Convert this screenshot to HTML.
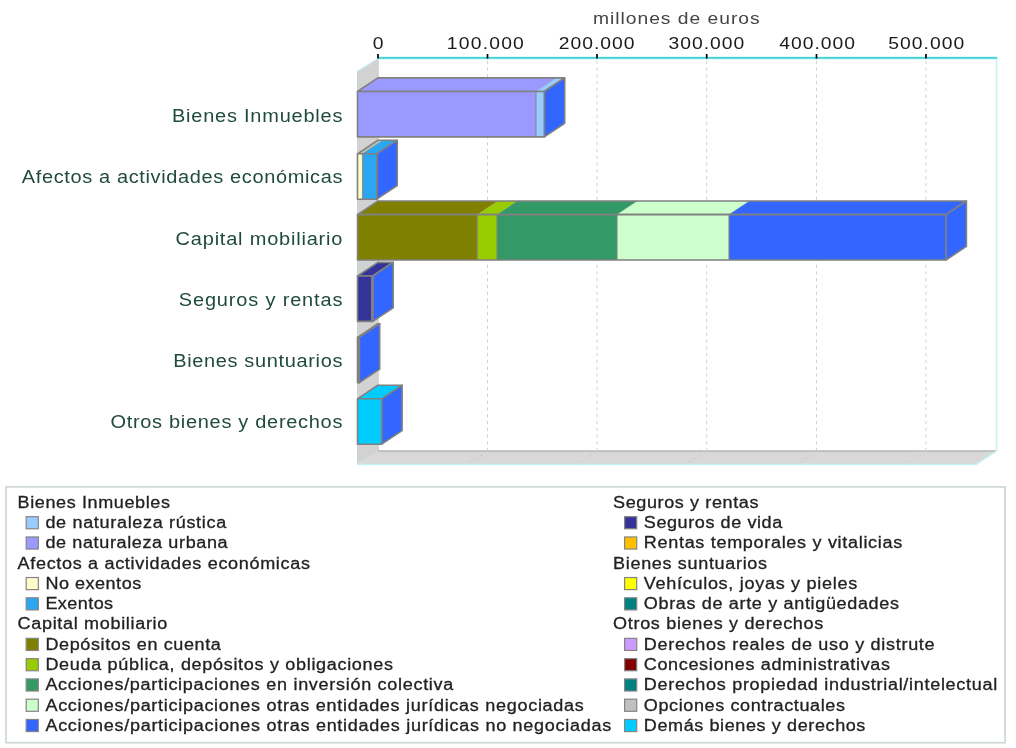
<!DOCTYPE html>
<html><head><meta charset="utf-8"><title>chart</title>
<style>
html,body{margin:0;padding:0;background:#fff;}
body{width:1016px;height:748px;overflow:hidden;}
svg{display:block;will-change:transform;}
text{font-family:"Liberation Sans",sans-serif;white-space:pre;}
</style></head><body>
<svg width="1016" height="748" viewBox="0 0 1016 748">
<rect width="1016" height="748" fill="#fff"/>
<polygon points="357.0,71.6 378.9,58 378.9,451 357.0,464.6" fill="#d2d2d2"/>
<line x1="357.0" y1="71.6" x2="378.9" y2="58" stroke="#c4f0f0" stroke-width="1.2"/>
<polygon points="378,451 996.5,451 976.1,464.6 357.5,464.6" fill="#d8d8d8"/>
<line x1="378" y1="451" x2="996.5" y2="451" stroke="#b4b4b4" stroke-width="1.5"/>
<polyline points="996.5,58 996.5,451 976.1,464.6 357.5,464.6" fill="none" stroke="#c4f4f4" stroke-width="1.5"/>
<line x1="357.5" y1="71.6" x2="357.5" y2="464.6" stroke="#c4d8d8" stroke-width="1"/>
<line x1="487.5" y1="60.5" x2="487.5" y2="451" stroke="#d2d2d2" stroke-width="1" stroke-dasharray="3.4,3.4"/>
<line x1="487.5" y1="451" x2="467.1" y2="464.6" stroke="#cccccc" stroke-width="1" stroke-dasharray="3,3"/>
<line x1="597" y1="60.5" x2="597" y2="451" stroke="#d2d2d2" stroke-width="1" stroke-dasharray="3.4,3.4"/>
<line x1="597" y1="451" x2="576.6" y2="464.6" stroke="#cccccc" stroke-width="1" stroke-dasharray="3,3"/>
<line x1="706.7" y1="60.5" x2="706.7" y2="451" stroke="#d2d2d2" stroke-width="1" stroke-dasharray="3.4,3.4"/>
<line x1="706.7" y1="451" x2="686.3000000000001" y2="464.6" stroke="#cccccc" stroke-width="1" stroke-dasharray="3,3"/>
<line x1="816.5" y1="60.5" x2="816.5" y2="451" stroke="#d2d2d2" stroke-width="1" stroke-dasharray="3.4,3.4"/>
<line x1="816.5" y1="451" x2="796.1" y2="464.6" stroke="#cccccc" stroke-width="1" stroke-dasharray="3,3"/>
<line x1="926" y1="60.5" x2="926" y2="451" stroke="#d2d2d2" stroke-width="1" stroke-dasharray="3.4,3.4"/>
<line x1="926" y1="451" x2="905.6" y2="464.6" stroke="#cccccc" stroke-width="1" stroke-dasharray="3,3"/>
<line x1="378" y1="58" x2="997.3" y2="58" stroke="#d4fafa" stroke-width="3.6"/>
<line x1="378" y1="57.9" x2="997.1" y2="57.9" stroke="#46cfd6" stroke-width="1.8"/>
<line x1="378" y1="54" x2="378" y2="58.6" stroke="#000" stroke-width="1.7"/>
<line x1="487.5" y1="54" x2="487.5" y2="58.6" stroke="#000" stroke-width="1.7"/>
<line x1="597" y1="54" x2="597" y2="58.6" stroke="#000" stroke-width="1.7"/>
<line x1="706.7" y1="54" x2="706.7" y2="58.6" stroke="#000" stroke-width="1.7"/>
<line x1="816.5" y1="54" x2="816.5" y2="58.6" stroke="#000" stroke-width="1.7"/>
<line x1="926" y1="54" x2="926" y2="58.6" stroke="#000" stroke-width="1.7"/>
<polygon points="357.5,91.5 377.9,77.9 556.3,77.9 535.9,91.5" fill="#9999FF"/>
<polygon points="535.9,91.5 556.3,77.9 564.6999999999999,77.9 544.3,91.5" fill="#99CCFF"/>
<line x1="535.9" y1="91.5" x2="556.3" y2="77.9" stroke="#808080" stroke-width="1" stroke-opacity="0.3"/>
<polygon points="357.5,91.5 377.9,77.9 564.6999999999999,77.9 544.3,91.5" fill="none" stroke="#808080" stroke-width="1.6" stroke-linejoin="round"/>
<polygon points="544.3,91.5 564.6999999999999,77.9 564.6999999999999,123.30000000000001 544.3,136.9" fill="#3366FF" stroke="#808080" stroke-width="1.6" stroke-linejoin="round"/>
<rect x="357.5" y="91.5" width="178.39999999999998" height="45.4" fill="#9999FF"/>
<rect x="535.9" y="91.5" width="8.399999999999977" height="45.4" fill="#99CCFF"/>
<line x1="535.9" y1="91.5" x2="535.9" y2="136.9" stroke="#808080" stroke-width="1.4" stroke-opacity="0.75"/>
<rect x="357.5" y="91.5" width="186.79999999999995" height="45.4" fill="none" stroke="#808080" stroke-width="1.6" stroke-linejoin="round"/>
<polygon points="357.5,153.8 377.9,140.20000000000002 383.0,140.20000000000002 362.6,153.8" fill="#b9bdb0"/>
<polygon points="362.6,153.8 383.0,140.20000000000002 397.2,140.20000000000002 376.8,153.8" fill="#2BA6F0"/>
<line x1="362.6" y1="153.8" x2="383.0" y2="140.20000000000002" stroke="#808080" stroke-width="1" stroke-opacity="0.3"/>
<polygon points="357.5,153.8 377.9,140.20000000000002 397.2,140.20000000000002 376.8,153.8" fill="none" stroke="#808080" stroke-width="1.6" stroke-linejoin="round"/>
<polygon points="376.8,153.8 397.2,140.20000000000002 397.2,185.60000000000002 376.8,199.20000000000002" fill="#3366FF" stroke="#808080" stroke-width="1.6" stroke-linejoin="round"/>
<rect x="357.5" y="153.8" width="5.100000000000023" height="45.4" fill="#FFFFCC"/>
<rect x="362.6" y="153.8" width="14.199999999999989" height="45.4" fill="#2BA6F0"/>
<line x1="362.6" y1="153.8" x2="362.6" y2="199.20000000000002" stroke="#808080" stroke-width="1.4" stroke-opacity="0.75"/>
<rect x="357.5" y="153.8" width="19.30000000000001" height="45.4" fill="none" stroke="#808080" stroke-width="1.6" stroke-linejoin="round"/>
<polygon points="357.5,214.6 377.9,201.0 497.9,201.0 477.5,214.6" fill="#808000"/>
<polygon points="477.5,214.6 497.9,201.0 517.4,201.0 497,214.6" fill="#99CC00"/>
<polygon points="497,214.6 517.4,201.0 637.4,201.0 617,214.6" fill="#339966"/>
<polygon points="617,214.6 637.4,201.0 749.4,201.0 729,214.6" fill="#CCFFCC"/>
<polygon points="729,214.6 749.4,201.0 966.4,201.0 946,214.6" fill="#3366FF"/>
<line x1="477.5" y1="214.6" x2="497.9" y2="201.0" stroke="#808080" stroke-width="1" stroke-opacity="0.3"/>
<line x1="497" y1="214.6" x2="517.4" y2="201.0" stroke="#808080" stroke-width="1" stroke-opacity="0.3"/>
<line x1="617" y1="214.6" x2="637.4" y2="201.0" stroke="#808080" stroke-width="1" stroke-opacity="0.3"/>
<line x1="729" y1="214.6" x2="749.4" y2="201.0" stroke="#808080" stroke-width="1" stroke-opacity="0.3"/>
<polygon points="357.5,214.6 377.9,201.0 966.4,201.0 946,214.6" fill="none" stroke="#808080" stroke-width="1.6" stroke-linejoin="round"/>
<polygon points="946,214.6 966.4,201.0 966.4,246.4 946,260.0" fill="#3366FF" stroke="#808080" stroke-width="1.6" stroke-linejoin="round"/>
<rect x="357.5" y="214.6" width="120.0" height="45.4" fill="#808000"/>
<rect x="477.5" y="214.6" width="19.5" height="45.4" fill="#99CC00"/>
<rect x="497" y="214.6" width="120" height="45.4" fill="#339966"/>
<rect x="617" y="214.6" width="112" height="45.4" fill="#CCFFCC"/>
<rect x="729" y="214.6" width="217" height="45.4" fill="#3366FF"/>
<line x1="477.5" y1="214.6" x2="477.5" y2="260.0" stroke="#808080" stroke-width="1.4" stroke-opacity="0.75"/>
<line x1="497" y1="214.6" x2="497" y2="260.0" stroke="#808080" stroke-width="1.4" stroke-opacity="0.75"/>
<line x1="617" y1="214.6" x2="617" y2="260.0" stroke="#808080" stroke-width="1.4" stroke-opacity="0.75"/>
<line x1="729" y1="214.6" x2="729" y2="260.0" stroke="#808080" stroke-width="1.4" stroke-opacity="0.75"/>
<rect x="357.5" y="214.6" width="588.5" height="45.4" fill="none" stroke="#808080" stroke-width="1.6" stroke-linejoin="round"/>
<polygon points="357.5,276.0 377.9,262.4 392.0,262.4 371.6,276.0" fill="#333399"/>
<polygon points="371.6,276.0 392.0,262.4 393.2,262.4 372.8,276.0" fill="#808080"/>
<line x1="371.6" y1="276.0" x2="392.0" y2="262.4" stroke="#808080" stroke-width="1" stroke-opacity="0.3"/>
<polygon points="357.5,276.0 377.9,262.4 393.2,262.4 372.8,276.0" fill="none" stroke="#808080" stroke-width="1.6" stroke-linejoin="round"/>
<polygon points="372.8,276.0 393.2,262.4 393.2,307.79999999999995 372.8,321.4" fill="#3366FF" stroke="#808080" stroke-width="1.6" stroke-linejoin="round"/>
<rect x="357.5" y="276.0" width="14.100000000000023" height="45.4" fill="#333399"/>
<rect x="371.6" y="276.0" width="1.1999999999999886" height="45.4" fill="#808080"/>
<line x1="371.6" y1="276.0" x2="371.6" y2="321.4" stroke="#808080" stroke-width="1.4" stroke-opacity="0.75"/>
<rect x="357.5" y="276.0" width="15.300000000000011" height="45.4" fill="none" stroke="#808080" stroke-width="1.6" stroke-linejoin="round"/>
<polygon points="357.5,337.3 377.9,323.7 379.7,323.7 359.3,337.3" fill="#808080"/>
<polygon points="357.5,337.3 377.9,323.7 379.7,323.7 359.3,337.3" fill="none" stroke="#808080" stroke-width="1.6" stroke-linejoin="round"/>
<polygon points="359.3,337.3 379.7,323.7 379.7,369.09999999999997 359.3,382.7" fill="#3366FF" stroke="#808080" stroke-width="1.6" stroke-linejoin="round"/>
<rect x="357.5" y="337.3" width="1.8000000000000114" height="45.4" fill="#808080"/>
<rect x="357.5" y="337.3" width="1.8000000000000114" height="45.4" fill="none" stroke="#808080" stroke-width="1.6" stroke-linejoin="round"/>
<polygon points="357.5,398.8 377.9,385.2 402.09999999999997,385.2 381.7,398.8" fill="#00CCFF"/>
<polygon points="357.5,398.8 377.9,385.2 402.09999999999997,385.2 381.7,398.8" fill="none" stroke="#808080" stroke-width="1.6" stroke-linejoin="round"/>
<polygon points="381.7,398.8 402.09999999999997,385.2 402.09999999999997,430.59999999999997 381.7,444.2" fill="#3366FF" stroke="#808080" stroke-width="1.6" stroke-linejoin="round"/>
<rect x="357.5" y="398.8" width="24.19999999999999" height="45.4" fill="#00CCFF"/>
<rect x="357.5" y="398.8" width="24.19999999999999" height="45.4" fill="none" stroke="#808080" stroke-width="1.6" stroke-linejoin="round"/>
<text transform="translate(593.00,23.70) scale(1.12,1)" textLength="148.75" lengthAdjust="spacing" font-size="17.2" fill="#444" >millones de euros</text>
<text transform="translate(372.65,48.80) scale(1.15,1)" textLength="8.87" lengthAdjust="spacing" font-size="16.8" fill="#1a1a1a" >0</text>
<text transform="translate(446.85,48.80) scale(1.15,1)" textLength="66.96" lengthAdjust="spacing" font-size="16.8" fill="#1a1a1a" >100.000</text>
<text transform="translate(558.70,48.80) scale(1.15,1)" textLength="65.91" lengthAdjust="spacing" font-size="16.8" fill="#1a1a1a" >200.000</text>
<text transform="translate(668.50,48.80) scale(1.15,1)" textLength="65.91" lengthAdjust="spacing" font-size="16.8" fill="#1a1a1a" >300.000</text>
<text transform="translate(779.20,48.80) scale(1.15,1)" textLength="65.91" lengthAdjust="spacing" font-size="16.8" fill="#1a1a1a" >400.000</text>
<text transform="translate(888.35,48.80) scale(1.15,1)" textLength="65.91" lengthAdjust="spacing" font-size="16.8" fill="#1a1a1a" >500.000</text>
<text transform="translate(172.00,122.40) scale(1.08,1)" textLength="157.78" lengthAdjust="spacing" font-size="18.5" fill="#1f4a3c" >Bienes Inmuebles</text>
<text transform="translate(21.80,183.00) scale(1.08,1)" textLength="296.85" lengthAdjust="spacing" font-size="18.5" fill="#1f4a3c" >Afectos a actividades económicas</text>
<text transform="translate(175.60,244.90) scale(1.08,1)" textLength="154.44" lengthAdjust="spacing" font-size="18.5" fill="#1f4a3c" >Capital mobiliario</text>
<text transform="translate(178.80,305.70) scale(1.08,1)" textLength="151.48" lengthAdjust="spacing" font-size="18.5" fill="#1f4a3c" >Seguros y rentas</text>
<text transform="translate(173.20,367.30) scale(1.08,1)" textLength="156.67" lengthAdjust="spacing" font-size="18.5" fill="#1f4a3c" >Bienes suntuarios</text>
<text transform="translate(110.40,428.10) scale(1.08,1)" textLength="214.81" lengthAdjust="spacing" font-size="18.5" fill="#1f4a3c" >Otros bienes y derechos</text>
<rect x="6" y="486.9" width="999" height="255.8" fill="#fff" stroke="#ccd4d4" stroke-width="1.6"/>
<text transform="translate(17.60,507.70) scale(1.1,1)" textLength="138.55" lengthAdjust="spacing" font-size="16.4" fill="#222" stroke="#222" stroke-width="0.3">Bienes Inmuebles</text>
<rect x="26.20" y="516.68" width="12.1" height="12.1" fill="#99CCFF" stroke="#848484" stroke-width="1.2"/>
<text transform="translate(45.40,527.98) scale(1.1,1)" textLength="164.36" lengthAdjust="spacing" font-size="16.4" fill="#222" stroke="#222" stroke-width="0.3">de naturaleza rústica</text>
<rect x="26.20" y="536.96" width="12.1" height="12.1" fill="#9999FF" stroke="#848484" stroke-width="1.2"/>
<text transform="translate(45.40,548.26) scale(1.1,1)" textLength="165.64" lengthAdjust="spacing" font-size="16.4" fill="#222" stroke="#222" stroke-width="0.3">de naturaleza urbana</text>
<text transform="translate(17.60,568.54) scale(1.1,1)" textLength="265.73" lengthAdjust="spacing" font-size="16.4" fill="#222" stroke="#222" stroke-width="0.3">Afectos a actividades económicas</text>
<rect x="26.20" y="577.52" width="12.1" height="12.1" fill="#FFFFCC" stroke="#848484" stroke-width="1.2"/>
<text transform="translate(45.40,588.82) scale(1.1,1)" textLength="87.09" lengthAdjust="spacing" font-size="16.4" fill="#222" stroke="#222" stroke-width="0.3">No exentos</text>
<rect x="26.20" y="597.80" width="12.1" height="12.1" fill="#2BA6F0" stroke="#848484" stroke-width="1.2"/>
<text transform="translate(45.40,609.10) scale(1.1,1)" textLength="61.55" lengthAdjust="spacing" font-size="16.4" fill="#222" stroke="#222" stroke-width="0.3">Exentos</text>
<text transform="translate(17.60,629.38) scale(1.1,1)" textLength="136.09" lengthAdjust="spacing" font-size="16.4" fill="#222" stroke="#222" stroke-width="0.3">Capital mobiliario</text>
<rect x="26.20" y="638.36" width="12.1" height="12.1" fill="#808000" stroke="#848484" stroke-width="1.2"/>
<text transform="translate(45.40,649.66) scale(1.1,1)" textLength="159.55" lengthAdjust="spacing" font-size="16.4" fill="#222" stroke="#222" stroke-width="0.3">Depósitos en cuenta</text>
<rect x="26.20" y="658.64" width="12.1" height="12.1" fill="#99CC00" stroke="#848484" stroke-width="1.2"/>
<text transform="translate(45.40,669.94) scale(1.1,1)" textLength="316.00" lengthAdjust="spacing" font-size="16.4" fill="#222" stroke="#222" stroke-width="0.3">Deuda pública, depósitos y obligaciones</text>
<rect x="26.20" y="678.92" width="12.1" height="12.1" fill="#339966" stroke="#848484" stroke-width="1.2"/>
<text transform="translate(45.40,690.22) scale(1.1,1)" textLength="370.82" lengthAdjust="spacing" font-size="16.4" fill="#222" stroke="#222" stroke-width="0.3">Acciones/participaciones en inversión colectiva</text>
<rect x="26.20" y="699.20" width="12.1" height="12.1" fill="#CCFFCC" stroke="#848484" stroke-width="1.2"/>
<text transform="translate(45.40,710.50) scale(1.1,1)" textLength="489.45" lengthAdjust="spacing" font-size="16.4" fill="#222" stroke="#222" stroke-width="0.3">Acciones/participaciones otras entidades jurídicas negociadas</text>
<rect x="26.20" y="719.48" width="12.1" height="12.1" fill="#3366FF" stroke="#848484" stroke-width="1.2"/>
<text transform="translate(45.40,730.78) scale(1.1,1)" textLength="514.36" lengthAdjust="spacing" font-size="16.4" fill="#222" stroke="#222" stroke-width="0.3">Acciones/participaciones otras entidades jurídicas no negociadas</text>
<text transform="translate(613.10,507.70) scale(1.1,1)" textLength="132.18" lengthAdjust="spacing" font-size="16.4" fill="#222" stroke="#222" stroke-width="0.3">Seguros y rentas</text>
<rect x="624.60" y="516.68" width="12.1" height="12.1" fill="#333399" stroke="#848484" stroke-width="1.2"/>
<text transform="translate(643.80,527.98) scale(1.1,1)" textLength="125.82" lengthAdjust="spacing" font-size="16.4" fill="#222" stroke="#222" stroke-width="0.3">Seguros de vida</text>
<rect x="624.60" y="536.96" width="12.1" height="12.1" fill="#FFC000" stroke="#848484" stroke-width="1.2"/>
<text transform="translate(643.80,548.26) scale(1.1,1)" textLength="234.91" lengthAdjust="spacing" font-size="16.4" fill="#222" stroke="#222" stroke-width="0.3">Rentas temporales y vitalicias</text>
<text transform="translate(613.10,568.54) scale(1.1,1)" textLength="139.91" lengthAdjust="spacing" font-size="16.4" fill="#222" stroke="#222" stroke-width="0.3">Bienes suntuarios</text>
<rect x="624.60" y="577.52" width="12.1" height="12.1" fill="#FFFF00" stroke="#848484" stroke-width="1.2"/>
<text transform="translate(643.80,588.82) scale(1.1,1)" textLength="194.00" lengthAdjust="spacing" font-size="16.4" fill="#222" stroke="#222" stroke-width="0.3">Vehículos, joyas y pieles</text>
<rect x="624.60" y="597.80" width="12.1" height="12.1" fill="#008080" stroke="#848484" stroke-width="1.2"/>
<text transform="translate(643.80,609.10) scale(1.1,1)" textLength="232.00" lengthAdjust="spacing" font-size="16.4" fill="#222" stroke="#222" stroke-width="0.3">Obras de arte y antigüedades</text>
<text transform="translate(613.10,629.38) scale(1.1,1)" textLength="191.00" lengthAdjust="spacing" font-size="16.4" fill="#222" stroke="#222" stroke-width="0.3">Otros bienes y derechos</text>
<rect x="624.60" y="638.36" width="12.1" height="12.1" fill="#CC99FF" stroke="#848484" stroke-width="1.2"/>
<text transform="translate(643.80,649.66) scale(1.1,1)" textLength="264.36" lengthAdjust="spacing" font-size="16.4" fill="#222" stroke="#222" stroke-width="0.3">Derechos reales de uso y distrute</text>
<rect x="624.60" y="658.64" width="12.1" height="12.1" fill="#800000" stroke="#848484" stroke-width="1.2"/>
<text transform="translate(643.80,669.94) scale(1.1,1)" textLength="223.82" lengthAdjust="spacing" font-size="16.4" fill="#222" stroke="#222" stroke-width="0.3">Concesiones administrativas</text>
<rect x="624.60" y="678.92" width="12.1" height="12.1" fill="#008080" stroke="#848484" stroke-width="1.2"/>
<text transform="translate(643.80,690.22) scale(1.1,1)" textLength="321.27" lengthAdjust="spacing" font-size="16.4" fill="#222" stroke="#222" stroke-width="0.3">Derechos propiedad industrial/intelectual</text>
<rect x="624.60" y="699.20" width="12.1" height="12.1" fill="#C0C0C0" stroke="#848484" stroke-width="1.2"/>
<text transform="translate(643.80,710.50) scale(1.1,1)" textLength="182.82" lengthAdjust="spacing" font-size="16.4" fill="#222" stroke="#222" stroke-width="0.3">Opciones contractuales</text>
<rect x="624.60" y="719.48" width="12.1" height="12.1" fill="#00CCFF" stroke="#848484" stroke-width="1.2"/>
<text transform="translate(643.80,730.78) scale(1.1,1)" textLength="201.45" lengthAdjust="spacing" font-size="16.4" fill="#222" stroke="#222" stroke-width="0.3">Demás bienes y derechos</text>
</svg></body></html>
